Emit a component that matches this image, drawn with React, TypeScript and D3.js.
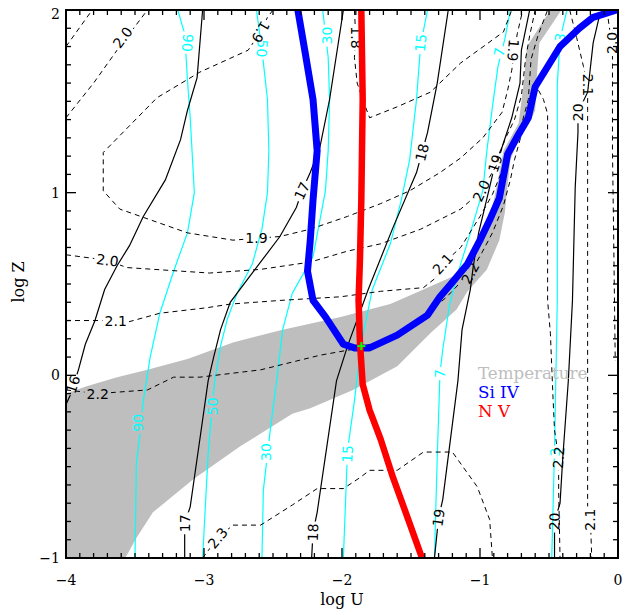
import React from 'react';
import * as d3 from 'd3';

type P = [number, number];
type Lab = { t: string; u: number; z: number; a: number };

// ---- axis ticks ----
const xMajor = [-4, -3, -2, -1, 0];
const yMajor = [-1, 0, 1, 2];
const xTickLabels = ['\u22124', '\u22123', '\u22122', '\u22121', '0'];
const yTickLabels = ['\u22121', '0', '1', '2'];

// ---- temperature band (grey) ----
const tempUpper: P[] = [[-4.0,-0.10],[-3.85,-0.06],[-3.63,-0.01],[-3.41,0.03],[-3.12,0.09],[-2.79,0.18],[-2.43,0.25],[-2.01,0.32],[-1.65,0.39],[-1.41,0.47],[-1.17,0.55],[-0.99,0.74],[-0.91,0.92],[-0.87,1.07],[-0.83,1.23],[-0.72,1.38],[-0.68,1.62],[-0.66,1.80],[-0.49,2.0]];
const tempLower: P[] = [[-0.41,2.0],[-0.57,1.82],[-0.59,1.62],[-0.60,1.45],[-0.65,1.37],[-0.72,1.29],[-0.78,1.18],[-0.80,1.04],[-0.82,0.89],[-0.86,0.74],[-0.95,0.58],[-1.09,0.46],[-1.17,0.36],[-1.36,0.23],[-1.60,0.05],[-1.92,-0.08],[-2.23,-0.18],[-2.36,-0.21],[-2.74,-0.39],[-3.08,-0.57],[-3.37,-0.75],[-3.49,-0.89],[-3.57,-1.0],[-4.0,-1.0]];

// ---- Si IV and N V ----
const siIV: P[] = [[-2.32,2.0],[-2.27,1.78],[-2.21,1.51],[-2.18,1.23],[-2.21,0.96],[-2.23,0.74],[-2.25,0.57],[-2.21,0.41],[-2.12,0.32],[-1.99,0.17],[-1.91,0.15],[-1.80,0.15],[-1.60,0.22],[-1.38,0.33],[-1.29,0.43],[-1.20,0.51],[-1.09,0.61],[-1.0,0.74],[-0.93,0.85],[-0.86,0.97],[-0.80,1.21],[-0.72,1.32],[-0.65,1.41],[-0.60,1.58],[-0.42,1.80],[-0.28,1.90],[-0.18,1.96],[-0.01,2.0]];
const nV: P[] = [[-1.86,2.0],[-1.85,1.51],[-1.86,0.96],[-1.87,0.63],[-1.88,0.41],[-1.87,0.18],[-1.85,-0.05],[-1.80,-0.19],[-1.72,-0.35],[-1.63,-0.56],[-1.51,-0.81],[-1.42,-1.0]];
const solution: P = [-1.86, 0.16];

// ---- cyan contours ----
const c90: P[] = [[-3.19,2.0],[-3.14,1.87],[-3.12,1.62],[-3.10,1.41],[-3.08,1.14],[-3.07,1.0],[-3.12,0.78],[-3.22,0.57],[-3.32,0.34],[-3.39,0.10],[-3.44,-0.14],[-3.46,-0.30],[-3.49,-0.48],[-3.50,-1.0]];
const c90L: Lab[] = [{t:'90',u:-3.12,z:1.82,a:95},{t:'90',u:-3.48,z:-0.26,a:-90}];
const c50: P[] = [[-2.62,2.0],[-2.58,1.78],[-2.54,1.51],[-2.53,1.23],[-2.54,1.0],[-2.58,0.80],[-2.65,0.61],[-2.76,0.45],[-2.83,0.31],[-2.88,0.16],[-2.92,-0.02],[-2.94,-0.16],[-2.97,-0.43],[-3.01,-1.0]];
const c50L: Lab[] = [{t:'50',u:-2.58,z:1.79,a:95},{t:'50',u:-2.94,z:-0.17,a:-88}];
const c30: P[] = [[-2.14,2.0],[-2.10,1.74],[-2.09,1.51],[-2.10,1.23],[-2.12,1.01],[-2.21,0.65],[-2.36,0.45],[-2.43,0.25],[-2.47,-0.01],[-2.52,-0.30],[-2.57,-0.63],[-2.58,-1.0]];
const c30L: Lab[] = [{t:'30',u:-2.11,z:1.86,a:-90},{t:'30',u:-2.55,z:-0.42,a:-90}];
const c15: P[] = [[-1.38,2.0],[-1.43,1.81],[-1.46,1.51],[-1.51,1.18],[-1.57,0.96],[-1.65,0.72],[-1.78,0.47],[-1.84,0.25],[-1.87,0.11],[-1.91,-0.14],[-1.96,-0.41],[-1.99,-1.0]];
const c15L: Lab[] = [{t:'15',u:-1.43,z:1.82,a:-85},{t:'15',u:-1.96,z:-0.43,a:-87}];
const c7: P[] = [[-0.78,2.0],[-0.82,1.84],[-0.87,1.69],[-0.91,1.47],[-0.95,1.23],[-0.98,1.01],[-1.07,0.78],[-1.16,0.56],[-1.22,0.39],[-1.27,0.14],[-1.29,0.01],[-1.31,-0.45],[-1.33,-1.0]];
const c7L: Lab[] = [{t:'7',u:-0.86,z:1.77,a:-78},{t:'7',u:-1.29,z:0.01,a:-88}];
const c3: P[] = [[-0.37,2.0],[-0.42,1.84],[-0.44,1.59],[-0.44,0.41],[-0.46,-0.41],[-0.48,-1.0]];
const c3L: Lab[] = [{t:'3',u:-0.42,z:1.85,a:-80},{t:'3',u:-0.46,z:-0.42,a:-90}];

// ---- black solid contours ----
const s16: P[] = [[-3.01,2.0],[-3.05,1.63],[-3.12,1.45],[-3.17,1.29],[-3.28,1.07],[-3.44,0.87],[-3.54,0.71],[-3.63,0.60],[-3.72,0.47],[-3.79,0.30],[-3.86,0.17],[-3.91,0.03],[-3.97,-0.11],[-4.0,-0.16]];
const s16L: Lab[] = [{t:'16',u:-3.95,z:-0.05,a:-72}];
const s17: P[] = [[-1.99,2.0],[-2.09,1.51],[-2.16,1.25],[-2.23,1.11],[-2.29,1.01],[-2.33,0.92],[-2.45,0.76],[-2.64,0.57],[-2.81,0.40],[-2.88,0.25],[-2.93,0.10],[-2.97,-0.03],[-3.03,-0.35],[-3.10,-0.72],[-3.14,-0.81],[-3.14,-1.0]];
const s17L: Lab[] = [{t:'17',u:-2.29,z:1.01,a:-65},{t:'17',u:-3.14,z:-0.81,a:-90}];
const s18: P[] = [[-1.23,2.0],[-1.31,1.60],[-1.38,1.33],[-1.42,1.22],[-1.46,1.11],[-1.63,0.81],[-1.81,0.47],[-1.96,0.16],[-2.04,-0.03],[-2.11,-0.39],[-2.18,-0.75],[-2.21,-0.86],[-2.22,-1.0]];
const s18L: Lab[] = [{t:'18',u:-1.42,z:1.22,a:-76},{t:'18',u:-2.21,z:-0.86,a:-88}];
const s19: P[] = [[-0.64,2.0],[-0.70,1.78],[-0.71,1.60],[-0.77,1.41],[-0.84,1.25],[-0.89,1.16],[-0.93,1.03],[-1.01,0.78],[-1.05,0.59],[-1.07,0.47],[-1.13,0.25],[-1.16,-0.03],[-1.27,-0.68],[-1.30,-0.78],[-1.33,-1.0]];
const s19L: Lab[] = [{t:'19',u:-0.89,z:1.16,a:-72},{t:'19',u:-1.30,z:-0.78,a:-82}];
const s20: P[] = [[-0.11,2.0],[-0.14,1.95],[-0.18,1.82],[-0.22,1.55],[-0.29,1.44],[-0.29,1.33],[-0.31,1.03],[-0.33,0.41],[-0.36,-0.03],[-0.40,-0.45],[-0.42,-0.70],[-0.46,-0.80],[-0.46,-1.0]];
const s20L: Lab[] = [{t:'20',u:-0.29,z:1.44,a:-90},{t:'20',u:-0.46,z:-0.80,a:-88}];

// ---- black dashed contours ----
const d20a: P[] = [[-4.0,1.41],[-3.80,1.60],[-3.63,1.78],[-3.41,2.0]];
const d20aL: Lab[] = [{t:'2.0',u:-3.59,z:1.85,a:-53}];
const d21a: P[] = [[-4.0,1.80],[-3.81,2.0]];
const d19: P[] = [[-2.50,2.0],[-2.54,1.96],[-2.59,1.88],[-2.68,1.78],[-3.03,1.66],[-3.34,1.52],[-3.73,1.22],[-3.73,1.01],[-3.61,0.91],[-3.12,0.78],[-2.79,0.74],[-2.62,0.75],[-2.45,0.76],[-2.23,0.80],[-1.96,0.87],[-1.72,0.94],[-1.51,1.01],[-1.29,1.11],[-1.14,1.19],[-0.98,1.30],[-0.84,1.44],[-0.80,1.56],[-0.77,1.67],[-0.73,1.87],[-0.69,2.0]];
const d19L: Lab[] = [{t:'1.9',u:-2.59,z:1.88,a:120},{t:'1.9',u:-2.62,z:0.75,a:0},{t:'1.9',u:-0.76,z:1.78,a:95}];
const d18: P[] = [[-1.91,2.0],[-1.90,1.85],[-1.91,1.74],[-1.89,1.60],[-1.85,1.51],[-1.80,1.41],[-1.60,1.47],[-1.36,1.55],[-1.14,1.71],[-0.83,1.88],[-0.77,2.0]];
const d18L: Lab[] = [{t:'1.8',u:-1.90,z:1.85,a:90}];
const d20: P[] = [[-4.0,0.66],[-3.70,0.63],[-3.56,0.59],[-2.96,0.56],[-2.59,0.58],[-2.23,0.62],[-1.96,0.68],[-1.72,0.72],[-1.43,0.80],[-1.14,0.91],[-0.99,1.01],[-0.88,1.15],[-0.82,1.29],[-0.75,1.40],[-0.70,1.53],[-0.67,1.73],[-0.64,1.86],[-0.60,2.0]];
const d20L: Lab[] = [{t:'2.0',u:-3.70,z:0.63,a:8},{t:'2.0',u:-0.99,z:1.01,a:-65}];
const d21: P[] = [[-4.0,0.30],[-3.64,0.30],[-3.56,0.29],[-3.32,0.34],[-2.98,0.37],[-2.81,0.39],[-2.45,0.41],[-2.01,0.43],[-1.72,0.46],[-1.41,0.48],[-1.31,0.54],[-1.27,0.61],[-1.14,0.70],[-1.0,0.87],[-0.91,0.99],[-0.84,1.12],[-0.77,1.26],[-0.70,1.37],[-0.65,1.51],[-0.63,1.73],[-0.58,1.86],[-0.51,2.0]];
const d21L: Lab[] = [{t:'2.1',u:-3.64,z:0.30,a:0},{t:'2.1',u:-1.27,z:0.61,a:-48}];
const d22: P[] = [[-4.0,-0.08],[-3.77,-0.10],[-3.41,-0.08],[-3.22,-0.01],[-3.03,-0.01],[-2.59,0.03],[-2.16,0.11],[-1.94,0.14],[-1.60,0.21],[-1.41,0.32],[-1.24,0.43],[-1.14,0.51],[-1.07,0.56],[-0.98,0.68],[-0.91,0.78],[-0.83,0.93],[-0.78,1.07],[-0.75,1.18],[-0.71,1.29],[-0.66,1.40],[-0.62,1.51],[-0.59,1.58],[-0.54,1.51],[-0.51,1.43],[-0.51,0.96],[-0.51,0.41],[-0.49,0.23],[-0.47,-0.14],[-0.46,-0.30],[-0.43,-0.45],[-0.43,-0.63],[-0.42,-1.0]];
const d22L: Lab[] = [{t:'2.2',u:-3.77,z:-0.10,a:0},{t:'2.2',u:-1.07,z:0.56,a:-62},{t:'2.2',u:-0.43,z:-0.45,a:-85}];
const d23: P[] = [[-3.01,-1.0],[-2.90,-0.89],[-2.79,-0.82],[-2.59,-0.82],[-2.36,-0.71],[-2.18,-0.62],[-1.99,-0.62],[-1.87,-0.56],[-1.80,-0.52],[-1.60,-0.52],[-1.41,-0.42],[-1.20,-0.42],[-1.02,-0.61],[-0.93,-0.79],[-0.91,-1.0]];
const d23L: Lab[] = [{t:'2.3',u:-2.90,z:-0.89,a:-50}];
const d21b: P[] = [[-0.35,2.0],[-0.30,1.85],[-0.25,1.69],[-0.22,1.59],[-0.22,1.45],[-0.22,0.41],[-0.22,-0.03],[-0.22,-0.72],[-0.20,-0.79],[-0.19,-1.0]];
const d21bL: Lab[] = [{t:'2.1',u:-0.22,z:1.59,a:90},{t:'2.1',u:-0.20,z:-0.79,a:-90}];
const d20b: P[] = [[-0.08,2.0],[-0.06,1.89],[-0.04,1.82],[-0.04,1.69],[-0.04,1.23],[-0.03,0.68],[-0.02,0.08]];
const d20bL: Lab[] = [{t:'2.0',u:-0.04,z:1.82,a:-90}];

const legend = [
  { t: 'Temperature', c: '#bebebe' },
  { t: 'Si IV', c: '#0000ff' },
  { t: 'N V', c: '#ff0000' },
];

const W = 631, H = 612;
const X0 = 66, X1 = 618, Y0 = 10, Y1 = 558;
const x = d3.scaleLinear().domain([-4, 0]).range([X0, X1]);
const y = d3.scaleLinear().domain([-1, 2]).range([Y1, Y0]);
const line = d3.line<P>().x(d => x(d[0])).y(d => y(d[1]));

const CYAN = '#00ffff';
type C = { key: string; pts: P[]; labels: Lab[]; color: string; dash: boolean };
const contours: C[] = [
  { key: 'c90', pts: c90, labels: c90L, color: CYAN, dash: false },
  { key: 'c50', pts: c50, labels: c50L, color: CYAN, dash: false },
  { key: 'c30', pts: c30, labels: c30L, color: CYAN, dash: false },
  { key: 'c15', pts: c15, labels: c15L, color: CYAN, dash: false },
  { key: 'c7', pts: c7, labels: c7L, color: CYAN, dash: false },
  { key: 'c3', pts: c3, labels: c3L, color: CYAN, dash: false },
  { key: 's16', pts: s16, labels: s16L, color: '#000', dash: false },
  { key: 's17', pts: s17, labels: s17L, color: '#000', dash: false },
  { key: 's18', pts: s18, labels: s18L, color: '#000', dash: false },
  { key: 's19', pts: s19, labels: s19L, color: '#000', dash: false },
  { key: 's20', pts: s20, labels: s20L, color: '#000', dash: false },
  { key: 'd20a', pts: d20a, labels: d20aL, color: '#000', dash: true },
  { key: 'd21a', pts: d21a, labels: [], color: '#000', dash: true },
  { key: 'd19', pts: d19, labels: d19L, color: '#000', dash: true },
  { key: 'd18', pts: d18, labels: d18L, color: '#000', dash: true },
  { key: 'd20', pts: d20, labels: d20L, color: '#000', dash: true },
  { key: 'd21', pts: d21, labels: d21L, color: '#000', dash: true },
  { key: 'd22', pts: d22, labels: d22L, color: '#000', dash: true },
  { key: 'd23', pts: d23, labels: d23L, color: '#000', dash: true },
  { key: 'd21b', pts: d21b, labels: d21bL, color: '#000', dash: true },
  { key: 'd20b', pts: d20b, labels: d20bL, color: '#000', dash: true },
];

const LFS = 14;
const labW = (t: string) => t.split('').reduce((s, ch) => s + (ch === '.' ? 0.32 : 0.64), 0) * LFS + 4;

export default function App() {
  const band = [...tempUpper, ...tempLower];
  const minor = d3.range(-40, 1).map(i => i / 10);
  const minorY = d3.range(-10, 21).map(i => i / 10);
  return (
    <svg width={W} height={H} style={{ position: 'absolute', left: 0, top: 0, background: '#fff' }}>
      <defs>
        <clipPath id="plot"><rect x={X0} y={Y0} width={X1 - X0} height={Y1 - Y0} /></clipPath>
        {contours.filter(c => c.labels.length).map(c => (
          <mask key={c.key} id={'m' + c.key} maskUnits="userSpaceOnUse" x={0} y={0} width={W} height={H}>
            <rect x={0} y={0} width={W} height={H} fill="#fff" />
            {c.labels.map((l, i) => {
              const w = labW(l.t);
              return <rect key={i} x={-w / 2} y={-7} width={w} height={14} fill="#000"
                transform={`translate(${x(l.u)},${y(l.z)}) rotate(${l.a})`} />;
            })}
          </mask>
        ))}
      </defs>
      <g clipPath="url(#plot)">
        <path d={line(band) + 'Z'} fill="#bebebe" stroke="none" />
        {contours.map(c => (
          <path key={c.key} d={line(c.pts) || ''} fill="none" stroke={c.color}
            strokeWidth={c.dash ? 1 : 1.2} strokeDasharray={c.dash ? '5,4' : undefined}
            mask={c.labels.length ? `url(#m${c.key})` : undefined} />
        ))}
        {contours.map(c => c.labels.map((l, i) => (
          <text key={c.key + i} transform={`translate(${x(l.u)},${y(l.z)}) rotate(${l.a})`}
            textAnchor="middle" dominantBaseline="central" fontFamily="DejaVu Sans" fontSize={LFS}
            fill={c.color}>{l.t}</text>
        )))}
        <path d={line(siIV) || ''} fill="none" stroke="#0000ff" strokeWidth={7} strokeLinejoin="round" />
        <path d={line(nV) || ''} fill="none" stroke="#ff0000" strokeWidth={6.5} strokeLinejoin="round" />
        <g stroke="#00ff00" strokeWidth={2}>
          <line x1={x(solution[0]) - 4} x2={x(solution[0]) + 4} y1={y(solution[1])} y2={y(solution[1])} />
          <line x1={x(solution[0])} x2={x(solution[0])} y1={y(solution[1]) - 4} y2={y(solution[1]) + 4} />
        </g>
      </g>
      {legend.map((l, i) => (
        <text key={l.t} x={478} y={379 + i * 19} fill={l.c} fontFamily="DejaVu Serif" fontSize={16.7}
          style={{ whiteSpace: 'pre' }}>{l.t}</text>
      ))}
      {/* frame and ticks */}
      <rect x={X0} y={Y0} width={X1 - X0} height={Y1 - Y0} fill="none" stroke="#000" strokeWidth={2} />
      <g stroke="#000" strokeWidth={1.3}>
        {minor.map((v, i) => {
          const len = Math.abs(v - Math.round(v)) < 1e-6 ? 10 : 5;
          return <g key={'x' + i}>
            <line x1={x(v)} x2={x(v)} y1={Y1} y2={Y1 - len} />
            <line x1={x(v)} x2={x(v)} y1={Y0} y2={Y0 + len} />
          </g>;
        })}
        {minorY.map((v, i) => {
          const len = Math.abs(v - Math.round(v)) < 1e-6 ? 10 : 5;
          return <g key={'y' + i}>
            <line x1={X0} x2={X0 + len} y1={y(v)} y2={y(v)} />
            <line x1={X1} x2={X1 - len} y1={y(v)} y2={y(v)} />
          </g>;
        })}
      </g>
      {xMajor.map((v, i) => (
        <text key={'xl' + i} x={x(v)} y={585} textAnchor="middle" fontFamily="DejaVu Serif" fontSize={14}>{xTickLabels[i]}</text>
      ))}
      {yMajor.map((v, i) => (
        <text key={'yl' + i} x={60} y={y(v) + 5 + (v === 2 ? 4 : 0)} textAnchor="end" fontFamily="DejaVu Serif" fontSize={14}>{yTickLabels[i]}</text>
      ))}
      <text x={342} y={605} textAnchor="middle" fontFamily="DejaVu Serif" fontSize={16}>log U</text>
      <text transform="translate(24,282) rotate(-90)" textAnchor="middle" fontFamily="DejaVu Serif" fontSize={16}>log Z</text>
    </svg>
  );
}
